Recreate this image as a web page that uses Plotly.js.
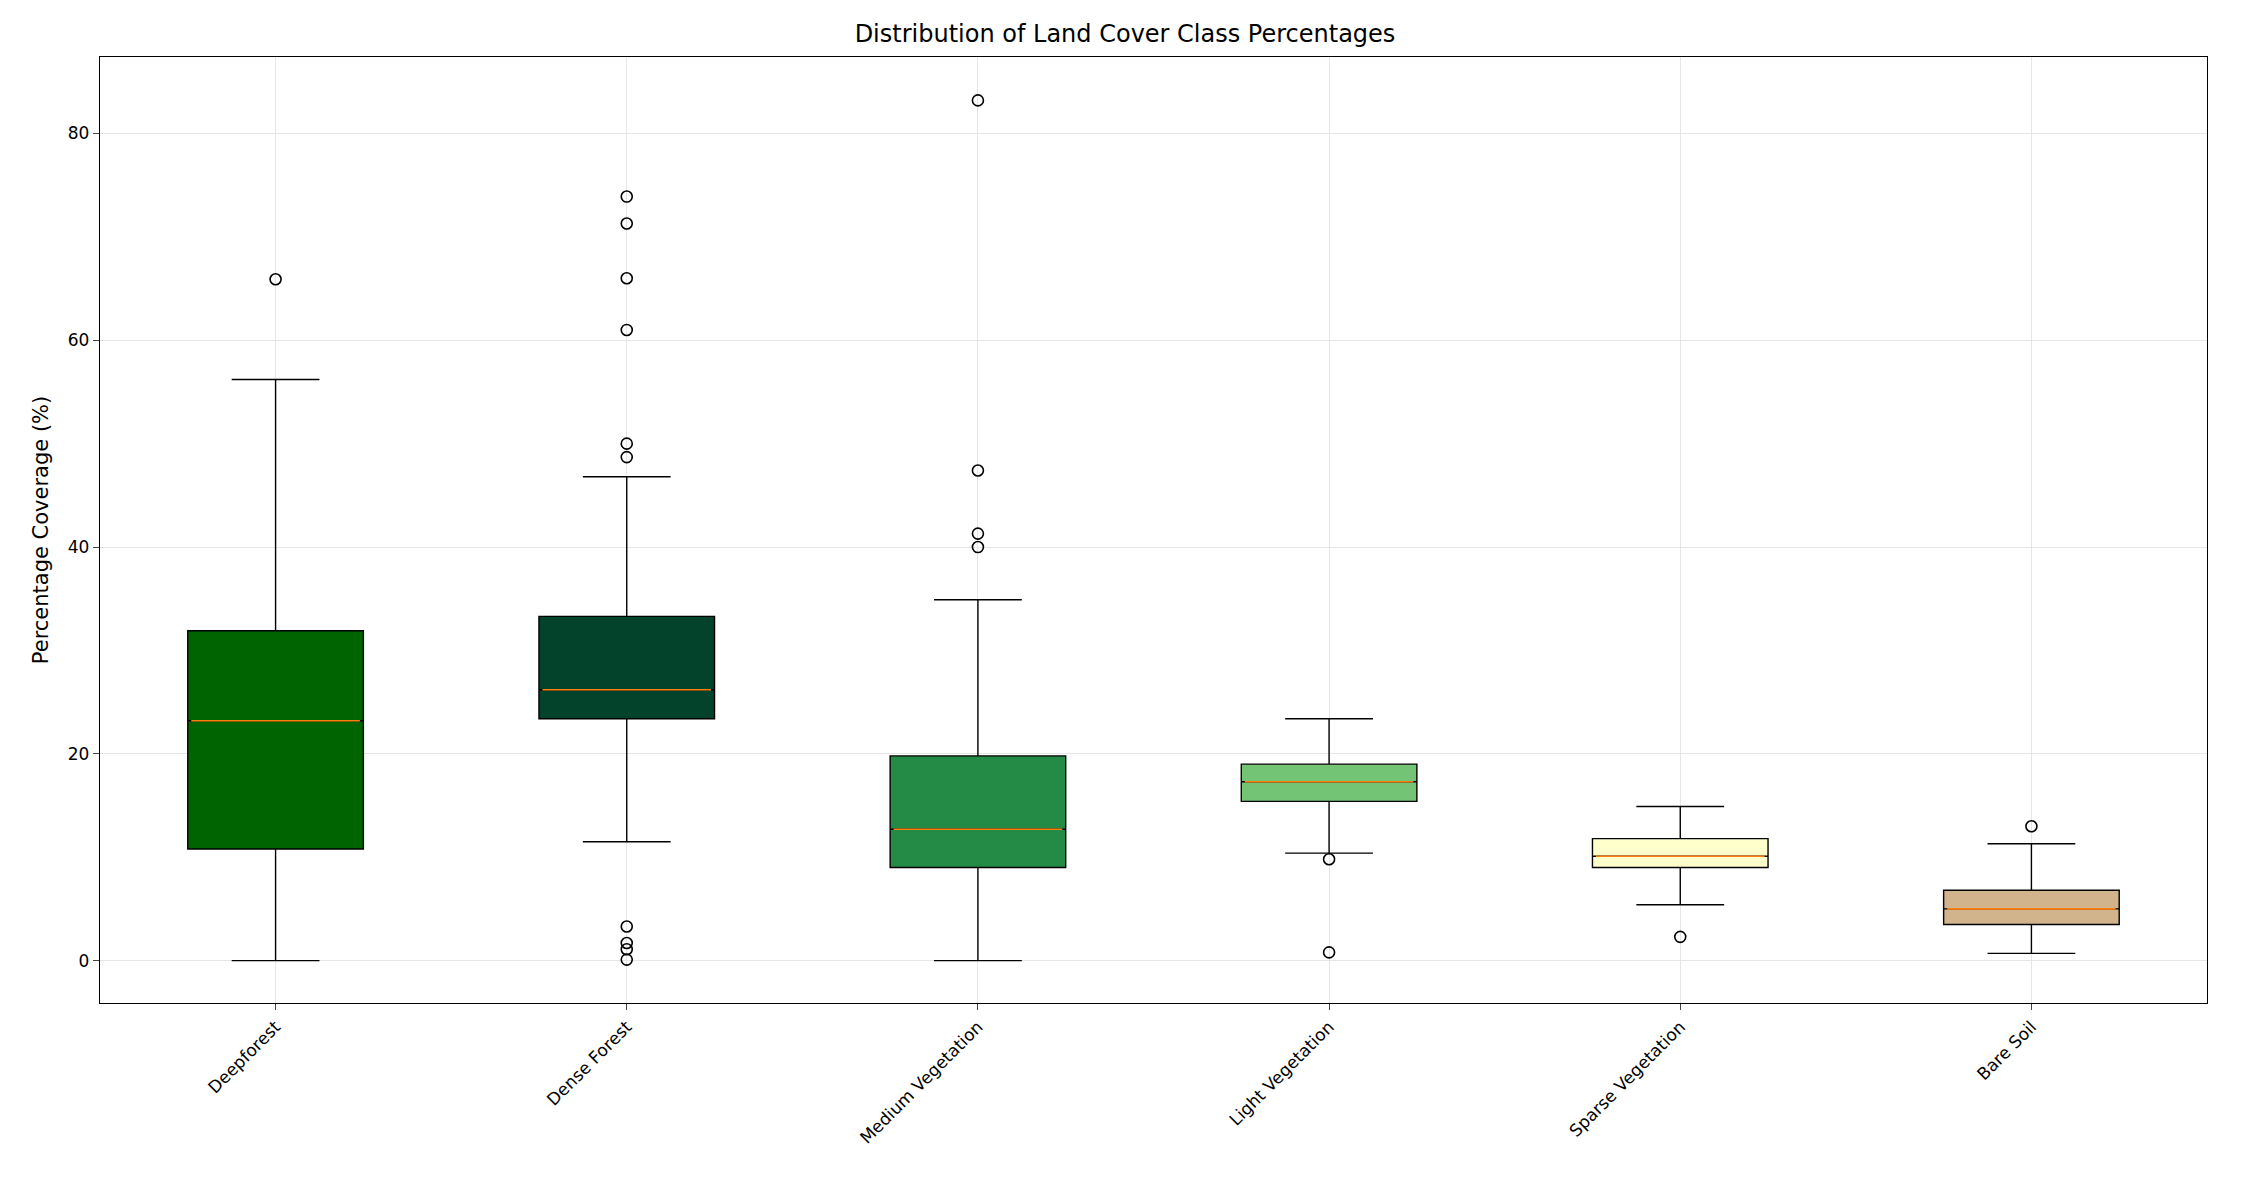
<!DOCTYPE html>
<html>
<head>
<meta charset="utf-8">
<script src="https://cdn.plot.ly/plotly-3.0.1.min.js"></script>
<style>body{margin:0;background:#fff}#chart{width:2250px;height:1200px}</style>
</head>
<body>
<div id="chart"></div>
<script>
var categories = ["Deepforest", "Dense Forest", "Medium Vegetation", "Light Vegetation", "Sparse Vegetation", "Bare Soil"];
var lowerWhisker = [0, 11.5, 0, 10.4, 5.4, 0.7];
var q1Values = [10.8, 23.4, 9.0, 15.4, 9.0, 3.5];
var medians = [23.2, 26.2, 12.7, 17.3, 10.1, 5.0];
var q3Values = [31.9, 33.3, 19.8, 19.0, 11.8, 6.8];
var upperWhisker = [56.2, 46.8, 34.9, 23.4, 14.9, 11.3];
var outliers = [
    [65.9],
    [73.9, 71.3, 66.0, 61.0, 50.0, 48.7, 3.3, 1.7, 1.1, 0.1],
    [83.2, 47.4, 41.3, 40.0],
    [9.8, 0.8],
    [2.3],
    [13.0]
];
var boxColors = ["#006400", "#03432b", "#238b45", "#74c476", "#ffffcc", "#d2b48c"];

var data = [];
var boxWidth = 0.5;
categories.forEach(function (name, i) {
    var xPos = i + 1;
    data.push({
        type: "box",
        x: [xPos],
        q1: [q1Values[i]], median: [medians[i]], q3: [q3Values[i]],
        lowerfence: [lowerWhisker[i]], upperfence: [upperWhisker[i]],
        width: boxWidth,
        whiskerwidth: 0.5,
        fillcolor: boxColors[i],
        line: {color: "black", width: 1.4},
        boxpoints: false,
        hoverinfo: "skip",
        showlegend: false
    });
    // orange median line
    data.push({
        type: "scatter", mode: "lines",
        x: [xPos - boxWidth / 2 + 0.01, xPos + boxWidth / 2 - 0.01],
        y: [medians[i], medians[i]],
        line: {color: "#ff7f0e", width: 1.6},
        showlegend: false, hoverinfo: "skip"
    });
    data.push({
        type: "scatter", mode: "markers",
        x: outliers[i].map(function () { return xPos; }),
        y: outliers[i],
        marker: {symbol: "circle-open", size: 11, color: "black", line: {width: 1.6}},
        showlegend: false
    });
});

var layout = {
    width: 2250, height: 1200,
    paper_bgcolor: "white", plot_bgcolor: "white",
    font: {family: "DejaVu Sans", size: 17, color: "black"},
    margin: {l: 100, r: 43, t: 57, b: 197},
    title: {text: "Distribution of Land Cover Class Percentages", font: {size: 24}, x: 0.5, xanchor: "center", y: 0.972, yanchor: "middle"},
    xaxis: {
        range: [0.5, 6.5],
        tickvals: [1, 2, 3, 4, 5, 6], ticktext: categories,
        tickangle: -45,
        showgrid: true, gridcolor: "#e6e6e6",
        showline: true, linecolor: "black", mirror: true, linewidth: 1.4,
        ticks: "outside", ticklen: 6, zeroline: false
    },
    yaxis: {
        range: [-4.1, 87.4],
        tickvals: [0, 20, 40, 60, 80],
        title: {text: "Percentage Coverage (%)", font: {size: 21}},
        showgrid: true, gridcolor: "#e6e6e6",
        showline: true, linecolor: "black", mirror: true, linewidth: 1.4,
        ticks: "outside", ticklen: 6, zeroline: false
    }
};
Plotly.newPlot("chart", data, layout, {displayModeBar: false});
</script>
</body>
</html>
